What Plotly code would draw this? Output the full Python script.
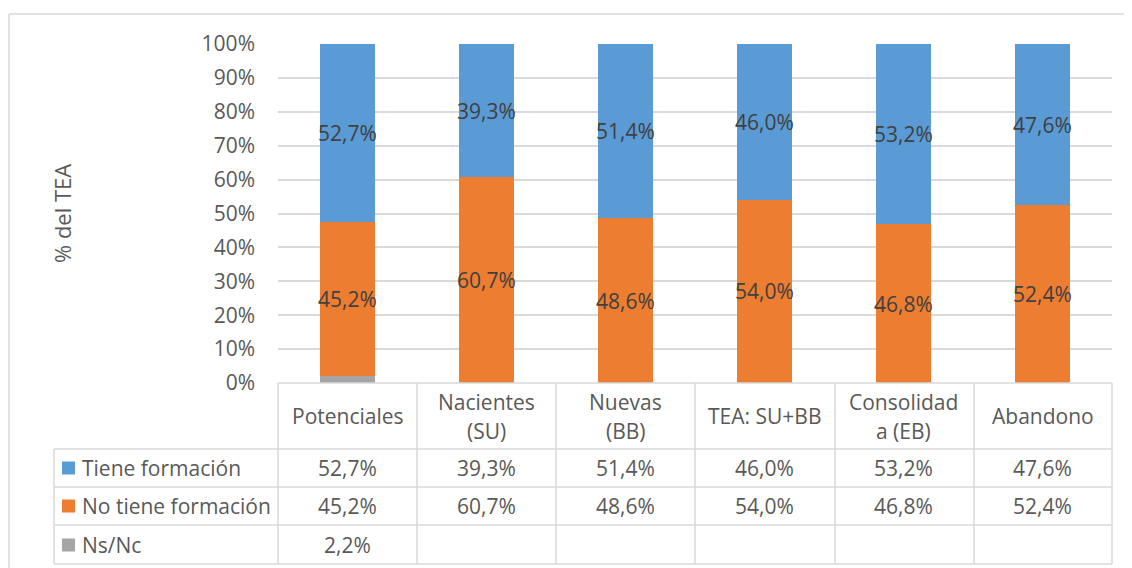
import plotly.graph_objects as go

# ---- data ----
categories = ["Potenciales", "Nacientes (SU)", "Nuevas (BB)", "TEA: SU+BB", "Consolidada (EB)", "Abandono"]
header_labels = [["Potenciales"], ["Nacientes", "(SU)"], ["Nuevas", "(BB)"], ["TEA: SU+BB"], ["Consolidad", "a (EB)"], ["Abandono"]]
tiene = [52.7, 39.3, 51.4, 46.0, 53.2, 47.6]
no_tiene = [45.2, 60.7, 48.6, 54.0, 46.8, 52.4]
ns_nc = [2.2, None, None, None, None, None]
series_names = ["Tiene formación", "No tiene formación", "Ns/Nc"]
series_colors = ["#5B9BD5", "#ED7D31", "#A5A5A5"]
y_ticks = [0, 10, 20, 30, 40, 50, 60, 70, 80, 90, 100]
y_ticktext = [f"{t}%" for t in y_ticks]

W, H = 1132, 568
OFF = 8  # page body margin offset
def px(x): return (x - OFF) / W
def py(y): return 1 - (y - OFF) / H

FONT = "Open Sans, sans-serif"
TXT = "#595959"
GRID = "#D9D9D9"
FS = 21

def fmt(v):
    return "" if v is None else f"{v:.1f}".replace(".", ",") + "%"

ns_vals = [v if v is not None else 0 for v in ns_nc]

fig = go.Figure()
# stacking order: Ns/Nc bottom, No tiene, Tiene top
fig.add_bar(x=categories, y=ns_vals, name=series_names[2],
            marker=dict(color=series_colors[2], line_width=0))
fig.add_bar(x=categories, y=no_tiene, name=series_names[1],
            marker=dict(color=series_colors[1], line_width=0))
fig.add_bar(x=categories, y=tiene, name=series_names[0],
            marker=dict(color=series_colors[0], line_width=0))

shapes = []
ann = []
L = dict(color=GRID, width=1.5)

# in-bar data labels (centered on each segment)
for cat, base, nt, t in zip(categories, ns_vals, no_tiene, tiene):
    top = min(base + nt + t, 100)
    for lo, hi, v in [(base, base + nt, nt), (base + nt, top, t)]:
        ann.append(dict(x=cat, xref="x", y=(lo + hi) / 2, yref="y", text=fmt(v), showarrow=False,
                        font=dict(family=FONT, size=FS, color="#404040"), xanchor="center", yanchor="middle"))

# outer chart frame (top and left edges visible)
shapes.append(dict(type="line", xref="paper", yref="paper", x0=px(9), x1=1, y0=py(14), y1=py(14), line=L))
shapes.append(dict(type="line", xref="paper", yref="paper", x0=px(9), x1=px(9), y0=py(14), y1=0, line=L))

# table grid
col_x = [278, 417, 556, 695, 835, 974, 1112]
row_y = [383, 449, 487, 525, 564]
shapes.append(dict(type="line", xref="paper", yref="paper", x0=px(278), x1=px(1112), y0=py(383), y1=py(383), line=L))
for yy in row_y[1:]:
    shapes.append(dict(type="line", xref="paper", yref="paper", x0=px(54), x1=px(1112), y0=py(yy), y1=py(yy), line=L))
shapes.append(dict(type="line", xref="paper", yref="paper", x0=px(54), x1=px(54), y0=py(449), y1=py(564), line=L))
for xx in col_x:
    shapes.append(dict(type="line", xref="paper", yref="paper", x0=px(xx), x1=px(xx), y0=py(383), y1=py(564), line=L))

# header labels
for cat, lines in zip(categories, header_labels):
    ys = [416] if len(lines) == 1 else [402, 431]
    for t, yy in zip(lines, ys):
        ann.append(dict(x=cat, xref="x", y=py(yy), yref="paper", text=t, showarrow=False,
                        font=dict(family=FONT, size=FS, color=TXT), xanchor="center", yanchor="middle"))

# table rows
rows = [tiene, no_tiene, ns_nc]
row_centers = [468, 506, 545]
for name, color, vals, yc in zip(series_names, series_colors, rows, row_centers):
    shapes.append(dict(type="rect", xref="paper", yref="paper", x0=px(62), x1=px(75), y0=py(yc + 6.5), y1=py(yc - 6.5),
                       fillcolor=color, line_width=0))
    ann.append(dict(x=px(80), xref="paper", y=py(yc), yref="paper", text=name, showarrow=False,
                    font=dict(family=FONT, size=FS, color=TXT), xanchor="left", yanchor="middle"))
    for cat, v in zip(categories, vals):
        if v is None:
            continue
        ann.append(dict(x=cat, xref="x", y=py(yc), yref="paper", text=fmt(v), showarrow=False,
                        font=dict(family=FONT, size=FS, color=TXT), xanchor="center", yanchor="middle"))

# y-axis title
ann.append(dict(x=px(62), xref="paper", y=py(214), yref="paper", text="% del TEA", textangle=-90, showarrow=False,
                font=dict(family=FONT, size=22, color=TXT), xanchor="center", yanchor="middle"))

fig.update_layout(
    width=W, height=H, margin=dict(l=0, r=0, t=0, b=0, pad=0, autoexpand=False),
    paper_bgcolor="white", plot_bgcolor="white",
    barmode="stack", bargap=0.6, showlegend=False,
    shapes=shapes, annotations=ann,
    xaxis=dict(domain=[px(278), px(1112)], showticklabels=False, showgrid=False, zeroline=False,
               showline=False, ticks="", categoryorder="array", categoryarray=categories, automargin=False),
    yaxis=dict(domain=[py(383), py(44)], range=[0, 100], tickmode="array", tickvals=y_ticks, ticktext=y_ticktext,
               showgrid=True, gridcolor=GRID, gridwidth=1.5, zeroline=False, showline=False,
               ticks="", ticklabelstandoff=22, automargin=False,
               tickfont=dict(family=FONT, size=FS, color=TXT)),
)

fig.write_html("out.html")
